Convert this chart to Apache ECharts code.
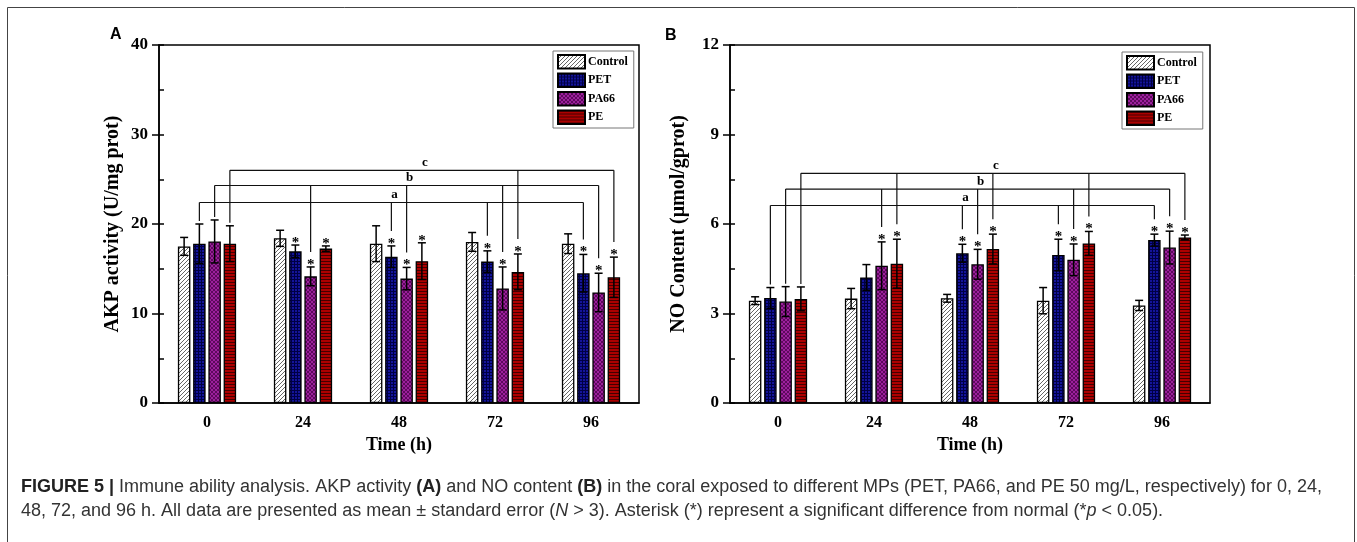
<!DOCTYPE html>
<html>
<head>
<meta charset="utf-8">
<script src="https://cdn.jsdelivr.net/npm/echarts@6/dist/echarts.min.js"></script>
<style>
  html, body { margin: 0; padding: 0; background: #fff; }
  #main { width: 1357px; height: 542px; }
</style>
</head>
<body>
<div id="main"></div>
<script>
// categories (time, h)
var categories = ['0', '24', '48', '72', '96'];
var seriesNames = ['Control', 'PET', 'PA66', 'PE'];

// A: AKP activity (U/mg prot), mean and standard error
var akpControl = [17.5, 18.4, 17.8, 18.0, 17.8];
var akpPET = [17.8, 16.95, 16.35, 15.8, 14.5];
var akpPA66 = [18.05, 14.15, 13.9, 12.8, 12.35];
var akpPE = [17.8, 17.25, 15.85, 14.65, 14.05];
var akpControlErr = [1.0, 0.9, 2.0, 1.05, 1.1];
var akpPETErr = [2.2, 0.7, 1.2, 1.2, 2.1];
var akpPA66Err = [2.4, 1.05, 1.25, 2.4, 2.15];
var akpPEErr = [2.0, 0.3, 2.05, 2.0, 2.25];
var akpControlStar = [0, 0, 0, 0, 0];
var akpPETStar = [0, 1, 1, 1, 1];
var akpPA66Star = [0, 1, 1, 1, 1];
var akpPEStar = [0, 1, 1, 1, 1];

// B: NO content (umol/gprot)
var noControl = [3.43, 3.50, 3.51, 3.43, 3.27];
var noPET = [3.52, 4.21, 5.02, 4.96, 5.46];
var noPA66 = [3.40, 4.60, 4.65, 4.80, 5.21];
var noPE = [3.49, 4.67, 5.16, 5.35, 5.55];
var noControlErr = [0.13, 0.34, 0.13, 0.44, 0.17];
var noPETErr = [0.35, 0.43, 0.30, 0.53, 0.20];
var noPA66Err = [0.50, 0.80, 0.50, 0.53, 0.55];
var noPEErr = [0.40, 0.82, 0.50, 0.40, 0.08];
var noControlStar = [0, 0, 0, 0, 0];
var noPETStar = [0, 0, 1, 1, 1];
var noPA66Star = [0, 1, 1, 1, 1];
var noPEStar = [0, 1, 1, 1, 1];

// y tick labels
var akpTicks = [0, 10, 20, 30, 40];
var noTicks = [0, 3, 6, 9, 12];

// significance brackets: series index, bracket level, categories joined
var akpBrackets = [
  { label: 'a', series: 1, level: 22.4, cats: [0, 2, 3, 4] },
  { label: 'b', series: 2, level: 24.3, cats: [0, 1, 2, 3, 4] },
  { label: 'c', series: 3, level: 26.0, cats: [0, 3, 4] }
];
var noBrackets = [
  { label: 'a', series: 1, level: 6.62, cats: [0, 2, 3, 4] },
  { label: 'b', series: 2, level: 7.17, cats: [0, 1, 2, 3, 4] },
  { label: 'c', series: 3, level: 7.70, cats: [0, 1, 2, 3, 4] }
];

var panels = [
  {
    means: [akpControl, akpPET, akpPA66, akpPE],
    errs: [akpControlErr, akpPETErr, akpPA66Err, akpPEErr],
    stars: [akpControlStar, akpPETStar, akpPA66Star, akpPEStar],
    brackets: akpBrackets, ticks: akpTicks,
    name: 'AKP activity (U/mg prot)'
  },
  {
    means: [noControl, noPET, noPA66, noPE],
    errs: [noControlErr, noPETErr, noPA66Err, noPEErr],
    stars: [noControlStar, noPETStar, noPA66Star, noPEStar],
    brackets: noBrackets, ticks: noTicks,
    name: 'NO Content (μmol/gprot)'
  }
];

var SERIF = '"Liberation Serif", "Times New Roman", serif';
var SANS = '"Liberation Sans", Arial, sans-serif';
var BAR_W = 12.5;
var BAR_GAP = 0.22;
var STEP = BAR_W * (1 + BAR_GAP);

// fill patterns for the bars
function makePattern(size, bg, draw) {
  var c = document.createElement('canvas');
  c.width = size; c.height = size;
  var ctx = c.getContext('2d');
  ctx.fillStyle = bg;
  ctx.fillRect(0, 0, size, size);
  draw(ctx);
  return { image: c, repeat: 'repeat' };
}
var patterns = [
  makePattern(4, '#ffffff', function (ctx) {
    ctx.strokeStyle = '#555';
    ctx.lineWidth = 0.9;
    ctx.beginPath();
    ctx.moveTo(0, 4); ctx.lineTo(4, 0);
    ctx.moveTo(-1, 1); ctx.lineTo(1, -1);
    ctx.moveTo(3, 5); ctx.lineTo(5, 3);
    ctx.stroke();
  }),
  makePattern(3, '#14149a', function (ctx) {
    ctx.fillStyle = '#000045';
    ctx.fillRect(0, 0, 3, 1);
    ctx.fillRect(0, 0, 1, 3);
  }),
  makePattern(4, '#9c209c', function (ctx) {
    ctx.strokeStyle = '#420042';
    ctx.lineWidth = 0.7;
    ctx.beginPath();
    ctx.moveTo(0, 4); ctx.lineTo(4, 0);
    ctx.moveTo(0, 0); ctx.lineTo(4, 4);
    ctx.stroke();
  }),
  makePattern(3, '#ac0000', function (ctx) {
    ctx.fillStyle = '#440000';
    ctx.fillRect(0, 0, 3, 1);
  })
];

// error bars + asterisks
function errRender(params, api) {
  var cat = api.value(0), mean = api.value(1), err = api.value(2);
  var star = api.value(3), s = api.value(4);
  var x = api.coord([cat, mean])[0] + (s - 1.5) * STEP;
  var yTop = api.coord([cat, mean + err])[1];
  var yBot = api.coord([cat, mean - err])[1];
  var ls = { stroke: '#000', lineWidth: 1.5 };
  var children = [
    { type: 'line', shape: { x1: x, y1: yTop, x2: x, y2: yBot }, style: ls },
    { type: 'line', shape: { x1: x - 4, y1: yTop, x2: x + 4, y2: yTop }, style: ls },
    { type: 'line', shape: { x1: x - 4, y1: yBot, x2: x + 4, y2: yBot }, style: ls }
  ];
  if (star) {
    children.push({
      type: 'text',
      style: { text: '*', x: x, y: yTop - 2, align: 'center', verticalAlign: 'middle',
        font: 'bold 15px ' + SERIF, fill: '#000' }
    });
  }
  return { type: 'group', children: children };
}

// brackets a / b / c
function bracketRender(panel) {
  return function (params, api) {
    var br = panel.brackets[params.dataIndex];
    var off = (br.series - 1.5) * STEP;
    var yLine = api.coord([0, br.level])[1];
    var ls = { stroke: '#111', lineWidth: 1.2 };
    var xs = br.cats.map(function (c) { return api.coord([c, 0])[0] + off; });
    var children = [
      { type: 'line', shape: { x1: xs[0], y1: yLine, x2: xs[xs.length - 1], y2: yLine }, style: ls }
    ];
    br.cats.forEach(function (c, i) {
      var s = br.series;
      var top = api.coord([c, panel.means[s][c] + panel.errs[s][c]])[1];
      var end = top - (panel.stars[s][c] ? 15 : 3);
      children.push({ type: 'line', shape: { x1: xs[i], y1: yLine, x2: xs[i], y2: end }, style: ls });
    });
    children.push({
      type: 'text',
      style: { text: br.label, x: api.coord([2, 0])[0] + off + 3, y: yLine - 1,
        align: 'center', verticalAlign: 'bottom', font: 'bold 13px ' + SERIF, fill: '#000' }
    });
    return { type: 'group', children: children };
  };
}

var gridPos = [
  { left: 159, top: 45, width: 480, height: 358 },
  { left: 730, top: 45, width: 480, height: 358 }
];
var legendPos = [{ left: 553, top: 51 }, { left: 1122, top: 52 }];

var grids = [], xAxes = [], yAxes = [], series = [], legends = [];
panels.forEach(function (p, g) {
  var max = p.ticks[p.ticks.length - 1];
  var step = p.ticks[1] - p.ticks[0];
  grids.push({
    left: gridPos[g].left, top: gridPos[g].top, width: gridPos[g].width, height: gridPos[g].height,
    show: true, borderColor: '#000', borderWidth: 1.5, backgroundColor: 'transparent'
  });
  // main x axis: labels, outward ticks at category centres
  xAxes.push({
    gridIndex: g, type: 'category', data: categories, position: 'bottom',
    name: 'Time (h)', nameLocation: 'middle', nameGap: 24,
    nameTextStyle: { fontFamily: SERIF, fontWeight: 'bold', fontSize: 18, color: '#000' },
    axisLine: { lineStyle: { color: '#000', width: 1.5 } },
    axisTick: { alignWithLabel: true, length: 6, lineStyle: { color: '#000', width: 1.5 } },
    axisLabel: { margin: 12, fontFamily: SERIF, fontWeight: 'bold', fontSize: 16, color: '#000' }
  });
  // second x axis: inward ticks on category boundaries
  xAxes.push({
    gridIndex: g, type: 'category', data: categories, position: 'bottom',
    axisLine: { show: false },
    axisTick: { inside: true, length: 5, lineStyle: { color: '#000', width: 1.5 } },
    axisLabel: { show: false }
  });
  yAxes.push({
    gridIndex: g, type: 'value', min: 0, max: max, interval: step, position: 'left',
    name: p.name, nameLocation: 'middle', nameGap: g === 0 ? 36 : 41,
    nameTextStyle: { fontFamily: SERIF, fontWeight: 'bold', fontSize: 20, color: '#000' },
    axisLine: { show: true, lineStyle: { color: '#000', width: 1.5 } },
    axisTick: { show: true, length: 7, lineStyle: { color: '#000', width: 1.5 } },
    axisLabel: { margin: 11, fontFamily: SERIF, fontWeight: 'bold', fontSize: 17, color: '#000' },
    splitLine: { show: false }
  });
  // minor ticks pointing inward
  yAxes.push({
    gridIndex: g, type: 'value', min: 0, max: max, interval: step / 2, position: 'left',
    axisLine: { show: false },
    axisTick: { show: true, inside: true, length: 5, lineStyle: { color: '#000', width: 1.5 } },
    axisLabel: { show: false }, splitLine: { show: false }
  });

  seriesNames.forEach(function (name, s) {
    series.push({
      name: name, type: 'bar', xAxisIndex: g * 2, yAxisIndex: g * 2,
      barWidth: BAR_W, barGap: (BAR_GAP * 100) + '%',
      data: p.means[s],
      itemStyle: { color: patterns[s], borderColor: '#000', borderWidth: 1.3 }
    });
  });

  var errData = [];
  for (var s = 0; s < 4; s++) {
    for (var c = 0; c < categories.length; c++) {
      errData.push([c, p.means[s][c], p.errs[s][c], p.stars[s][c], s]);
    }
  }
  series.push({
    type: 'custom', xAxisIndex: g * 2, yAxisIndex: g * 2, renderItem: errRender,
    encode: { x: 0, y: 1 }, data: errData, clip: false, z: 5, silent: true
  });
  series.push({
    type: 'custom', xAxisIndex: g * 2, yAxisIndex: g * 2, renderItem: bracketRender(p),
    encode: { x: 0, y: 1 },
    data: p.brackets.map(function (b) { return [2, b.level]; }),
    clip: false, z: 6, silent: true
  });

  legends.push({
    data: seriesNames, orient: 'vertical', left: legendPos[g].left, top: legendPos[g].top,
    icon: 'rect', itemWidth: 27, itemHeight: 13.5, itemGap: 3,
    padding: [3, 6, 3, 4], borderColor: '#777', borderWidth: 1, selectedMode: false,
    textStyle: { fontFamily: SERIF, fontWeight: 'bold', fontSize: 12, color: '#000', padding: [0, 0, 0, -2] }
  });
});

var capRich = {
  b: { fontFamily: SANS, fontWeight: 'bold', fontSize: 18, fill: '#222' },
  i: { fontFamily: SANS, fontStyle: 'italic', fontSize: 18, fill: '#333' }
};

var myChart = echarts.init(document.getElementById('main'));
var option = {
  animation: false,
  backgroundColor: '#fff',
  grid: grids,
  xAxis: xAxes,
  yAxis: yAxes,
  legend: legends,
  series: series,
  graphic: [
    { type: 'rect', shape: { x: 7.5, y: 7.5, width: 1347, height: 600 },
      style: { fill: 'none', stroke: '#444', lineWidth: 1 }, silent: true },
    { type: 'text', left: 110, top: 27,
      style: { text: 'A', font: 'bold 16px ' + SANS, fill: '#000' } },
    { type: 'text', left: 665, top: 28,
      style: { text: 'B', font: 'bold 16px ' + SANS, fill: '#000' } },
    { type: 'text', x: 21, y: 487,
      style: { text: '{b|FIGURE 5 |} Immune ability analysis. AKP activity {b|(A)} and NO content {b|(B)} in the coral exposed to different MPs (PET, PA66, and PE 50 mg/L, respectively) for 0, 24,',
        rich: capRich, font: '18px ' + SANS, fill: '#333', verticalAlign: 'middle' } },
    { type: 'text', x: 21, y: 511,
      style: { text: '48, 72, and 96 h. All data are presented as mean ± standard error ({i|N} > 3). Asterisk (*) represent a significant difference from normal (*{i|p} < 0.05).',
        rich: capRich, font: '18px ' + SANS, fill: '#333', verticalAlign: 'middle' } }
  ]
};
option && myChart.setOption(option);
</script>
</body>
</html>
